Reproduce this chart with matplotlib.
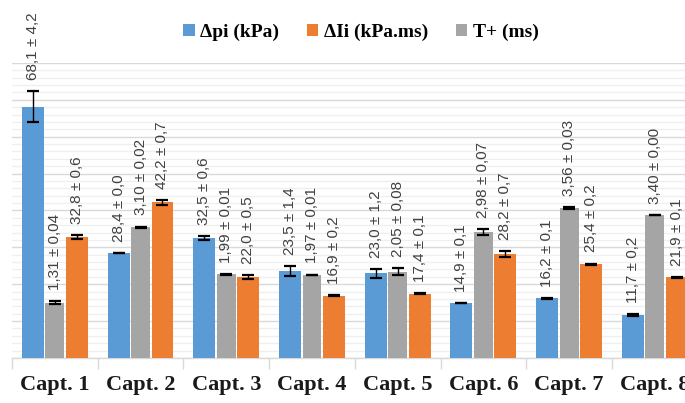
import matplotlib
matplotlib.use("Agg")
import matplotlib.pyplot as plt
from matplotlib.patches import Patch
import numpy as np

categories = ["Capt. 1", "Capt. 2", "Capt. 3", "Capt. 4", "Capt. 5", "Capt. 6", "Capt. 7", "Capt. 8"]
dpi_vals = [68.1, 28.4, 32.5, 23.5, 23.0, 14.9, 16.2, 11.7]
dpi_err = [4.2, 0.0, 0.6, 1.4, 1.2, 0.1, 0.1, 0.2]
dIi_vals = [32.8, 42.2, 22.0, 16.9, 17.4, 28.2, 25.4, 21.9]
dIi_err = [0.6, 0.7, 0.5, 0.2, 0.1, 0.7, 0.2, 0.1]
tplus_vals = [1.31, 3.10, 1.99, 1.97, 2.05, 2.98, 3.56, 3.40]
tplus_err = [0.04, 0.02, 0.01, 0.01, 0.08, 0.07, 0.03, 0.00]
series_names = ["\u0394pi (kPa)", "\u0394Ii (kPa.ms)", "T+ (ms)"]

BLUE = "#5B9BD5"
ORANGE = "#ED7D31"
GRAY = "#A5A5A5"
LABEL_COLOR = "#404040"

fig = plt.figure(figsize=(6.85, 4.03), dpi=100)
ax = fig.add_axes([0.0175, 0.1117, 1.001, 0.732])
ax2 = ax.twinx()
ax.set_zorder(1)
ax2.set_zorder(2)
ax.patch.set_visible(False)

x = np.arange(len(categories))
off = 0.256
w_main = 0.256
w_gray = 0.22

ax.bar(x - off, dpi_vals, w_main, color=BLUE, zorder=3, edgecolor='none')
ax.bar(x + off, dIi_vals, w_main, color=ORANGE, zorder=3, edgecolor='none')
ax2.bar(x, tplus_vals, w_gray, color=GRAY, zorder=3, edgecolor='none')

ekw = dict(fmt='none', ecolor='black', elinewidth=1.0, capsize=4.3, capthick=1.6, zorder=4)
ax.errorbar(x - off, dpi_vals, yerr=dpi_err, **ekw)
ax.errorbar(x + off, dIi_vals, yerr=dIi_err, **ekw)
ax2.errorbar(x, tplus_vals, yerr=tplus_err, **ekw)

def fmt(v, e, nd):
    return (f"{v:.{nd}f} \u00b1 {e:.{nd}f}").replace(".", ",")

lab_font = dict(family=["Liberation Sans", "DejaVu Sans"], size=11, color=LABEL_COLOR)
for xi, v, e in zip(x - off, dpi_vals, dpi_err):
    ax.annotate(fmt(v, e, 1), xy=(xi, v + e), xytext=(0, 8), textcoords='offset points',
                rotation=90, ha='center', va='bottom', annotation_clip=False, **lab_font)
for xi, v, e in zip(x + off, dIi_vals, dIi_err):
    ax.annotate(fmt(v, e, 1), xy=(xi, v + e), xytext=(0, 8), textcoords='offset points',
                rotation=90, ha='center', va='bottom', annotation_clip=False, **lab_font)
for xi, v, e in zip(x, tplus_vals, tplus_err):
    ax2.annotate(fmt(v, e, 2), xy=(xi, v + e), xytext=(0, 8), textcoords='offset points',
                 rotation=90, ha='center', va='bottom', annotation_clip=False, **lab_font)

ax.set_ylim(0, 80)
ax2.set_ylim(0, 7)
ax.set_xlim(-0.5, len(categories) - 0.5)

ax.set_yticks(np.arange(0, 81, 10))
ax.set_yticks(np.arange(0, 81, 2), minor=True)
ax.grid(axis='y', which='major', color='#D9D9D9', linewidth=1.0, zorder=0)
ax.grid(axis='y', which='minor', color='#EFEFEF', linewidth=0.9, zorder=0)
ax.tick_params(axis='y', which='both', left=False, labelleft=False)
ax2.tick_params(axis='y', which='both', right=False, labelright=False)
for a in (ax, ax2):
    for s in a.spines.values():
        s.set_visible(False)
ax.spines['bottom'].set_visible(True)
ax.spines['bottom'].set_color('#D9D9D9')
ax.spines['bottom'].set_linewidth(1.0)

ax.set_xticks(np.arange(-0.5, len(categories), 1.0))
ax.set_xticklabels([])
ax.tick_params(axis='x', which='major', length=8, color='#D9D9D9', width=1.0, direction='out')
ax.set_xticks(x, minor=True)
ax.set_xticklabels(categories, minor=True, fontfamily="Liberation Serif", fontweight='bold',
                   fontsize=16, color='#1a1a1a')
ax.tick_params(axis='x', which='minor', length=0, pad=12)

handles = [Patch(facecolor=BLUE, edgecolor='none'), Patch(facecolor=ORANGE, edgecolor='none'),
           Patch(facecolor=GRAY, edgecolor='none')]
fig.legend(handles, series_names, loc='center', bbox_to_anchor=(0.527, 0.92), ncol=3,
           frameon=False, handlelength=0.6, handleheight=0.6, handletextpad=0.3,
           columnspacing=1.4, prop=dict(family=["Liberation Serif", "DejaVu Serif"], weight='bold', size=14))

fig.savefig("out.png", dpi=100)
